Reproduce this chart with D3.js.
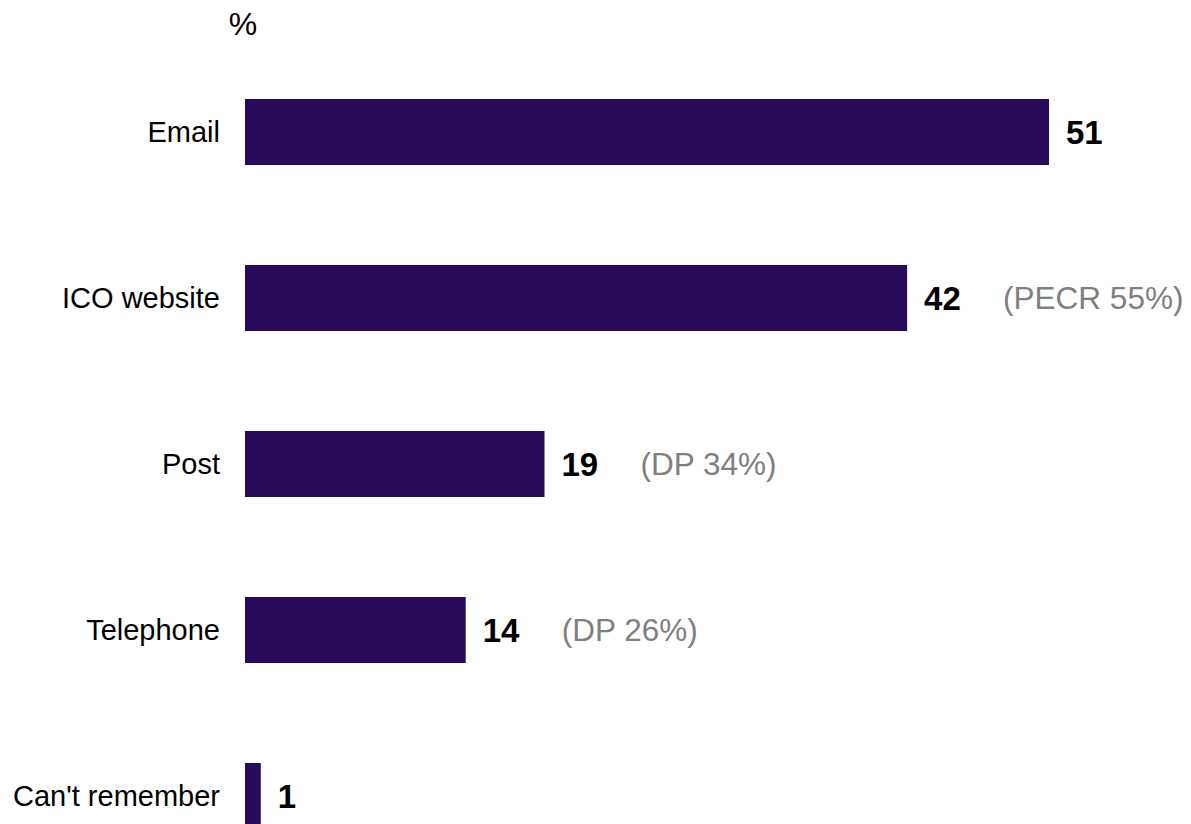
<!DOCTYPE html>
<html>
<head>
<meta charset="utf-8">
<script src="https://cdn.jsdelivr.net/npm/d3@7"></script>
<style>
  html, body { margin: 0; padding: 0; background: #ffffff; overflow: hidden; }
  svg { display: block; font-family: "Liberation Sans", Arial, sans-serif; }
</style>
</head>
<body>
<svg id="chart" width="1191" height="824"></svg>
<script>
const categories = ["Email", "ICO website", "Post", "Telephone", "Can't remember"];
const values = [51, 42, 19, 14, 1];
const notes = ["", "(PECR 55%)", "(DP 34%)", "(DP 26%)", ""];
const unitLabel = "%";

const svg = d3.select("#chart");
const x = d3.scaleLinear().domain([0, 51]).range([245, 1049]);
const y = d3.scaleBand().domain(categories).range([49, 879])
  .paddingInner(100 / 166).paddingOuter(50 / 166);

const barColor = "#280a5a";

svg.append("text")
  .attr("x", 243).attr("y", 35)
  .attr("text-anchor", "middle")
  .attr("font-size", 32)
  .attr("fill", "#000")
  .text(unitLabel);

const rows = categories.map((c, i) => ({ c, v: values[i], n: notes[i] }));

svg.selectAll("rect.bar").data(rows).join("rect")
  .attr("class", "bar")
  .attr("x", x(0))
  .attr("y", d => y(d.c))
  .attr("width", d => x(d.v) - x(0))
  .attr("height", y.bandwidth())
  .attr("fill", barColor);

svg.selectAll("text.cat").data(rows).join("text")
  .attr("class", "cat")
  .attr("x", x(0) - 25)
  .attr("y", d => y(d.c) + y.bandwidth() / 2 + 10)
  .attr("text-anchor", "end")
  .attr("font-size", 29)
  .attr("fill", "#000")
  .text(d => d.c);

svg.selectAll("text.val").data(rows).join("text")
  .attr("class", "val")
  .attr("x", d => x(d.v) + 17)
  .attr("y", d => y(d.c) + y.bandwidth() / 2 + 12)
  .attr("font-size", 33)
  .attr("font-weight", "bold")
  .attr("fill", "#000")
  .text(d => d.v);

svg.selectAll("text.note").data(rows.filter(d => d.n)).join("text")
  .attr("class", "note")
  .attr("x", d => x(d.v) + 96)
  .attr("y", d => y(d.c) + y.bandwidth() / 2 + 11)
  .attr("font-size", 31.5)
  .attr("fill", "#7f7f7f")
  .text(d => d.n);
</script>
</body>
</html>
